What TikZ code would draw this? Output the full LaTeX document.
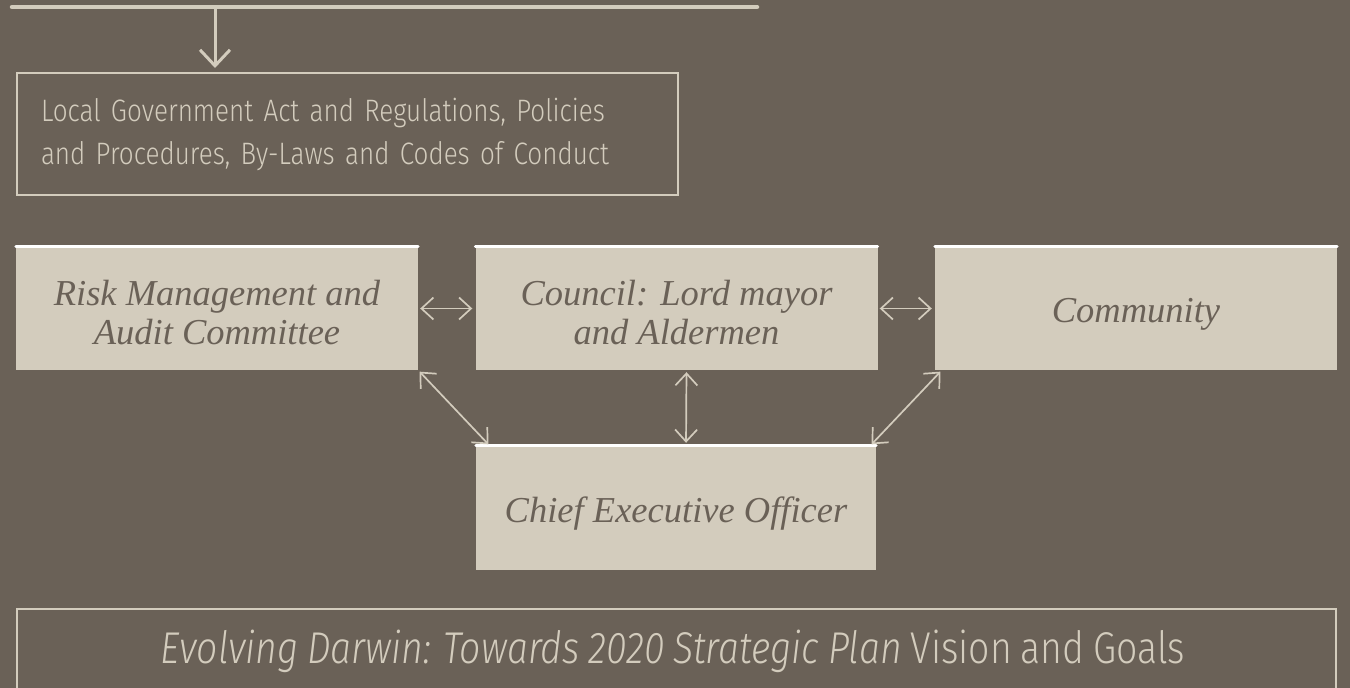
\documentclass[tikz,border=0pt]{standalone}
\usepackage{fontspec}
\usetikzlibrary{arrows.meta}
\newfontfamily\condfont{Fira Sans}[UprightFont=* Light, ItalicFont=* Light Italic, FakeStretch=0.84, WordSpace=0.85]
\newfontfamily\boxserif{Liberation Serif}
\definecolor{bg}{HTML}{6A6157}
\definecolor{pale}{HTML}{D3CCBD}
\tikzset{
  outbox/.style={draw=pale, line width=2pt, rectangle, inner sep=0pt},
  fillbox/.style={fill=pale, draw=none, rectangle, inner sep=0pt, minimum width=402pt, minimum height=123pt},
  boxtext/.style={text=bg, align=center, inner sep=0pt, font=\boxserif\itshape\fontsize{36.5}{39}\selectfont},
  topstrip/.style={draw=white, line width=3pt, line cap=round},
  conn/.style={draw=pale, line width=1.7pt, {Straight Barb[length=12pt,width=22pt]}-{Straight Barb[length=12pt,width=22pt]}},
}
\begin{document}
\begin{tikzpicture}[x=1pt,y=-1pt]
\fill[bg] (0,0) rectangle (1350,688);
\useasboundingbox (0,0) rectangle (1350,688);
\clip (0,0) rectangle (1350,688);
% top bar
\coordinate (barL) at (12,7);
\coordinate (barR) at (757,7);
\coordinate (barT) at (215,7);
\draw[pale, line width=4.5pt, line cap=round] (barL) -- (barR);
% law box
\node[outbox, anchor=north west, minimum width=661pt, minimum height=122pt, text width=613pt, inner xsep=24pt, align=left, text=pale, font=\condfont\fontsize{31}{43}\selectfont] (law) at (16,72) {Local Government Act and Regulations, Policies\\and Procedures, By-Laws and Codes of Conduct};
\draw[pale, line width=3pt, -{Straight Barb[length=16pt,width=30pt]}] (barT) -- ([yshift=4pt]law.north -| barT);
% filled boxes
\node[fillbox] (risk) at (217,308.5) {};
\node[fillbox] (council) at (676.5,308.5) {};
\node[fillbox] (comm) at (1136,308.5) {};
\node[fillbox, minimum width=400pt, minimum height=124pt] (ceo) at (676,508) {};
\foreach \n in {risk,council,comm,ceo}{
  \draw[topstrip] (\n.north west) -- (\n.north east);
}
\node[boxtext] (risktxt) at ([yshift=-4pt]risk.center) {Risk Management and\\Audit Committee};
\node[boxtext] (counciltxt) at ([yshift=-4pt]council.center) {Council: Lord mayor\\and Aldermen};
\node[boxtext] (commtxt) at ([yshift=-6pt]comm.center) {Community};
\node[boxtext] (ceotxt) at ([yshift=-6pt]ceo.center) {Chief Executive Officer};
% connectors
\draw[conn, shorten <=2pt, shorten >=3pt] (risk.east) -- (council.west);
\draw[conn, shorten <=2pt, shorten >=3pt] (council.east) -- (comm.west);
\draw[conn, shorten <=2pt, shorten >=3pt] ([xshift=10pt]council.south) -- ([xshift=10pt]ceo.north);
\draw[conn, shorten <=2pt, shorten >=2pt] (risk.south east) -- ([xshift=14pt]ceo.north west);
\draw[conn, shorten <=2pt, shorten >=2pt] ([xshift=7pt]comm.south west) -- ([xshift=-6pt]ceo.north east);
% goals box
\node[outbox, anchor=north west, minimum width=1319pt, minimum height=110pt] (goalsbox) at (16,608) {};
\node[text=pale, font=\condfont\fontsize{44.5}{48}\selectfont, anchor=center] (goals) at (673,651) {{\itshape Evolving Darwin: Towards 2020 Strategic Plan} Vision and Goals};
\end{tikzpicture}
\end{document}
